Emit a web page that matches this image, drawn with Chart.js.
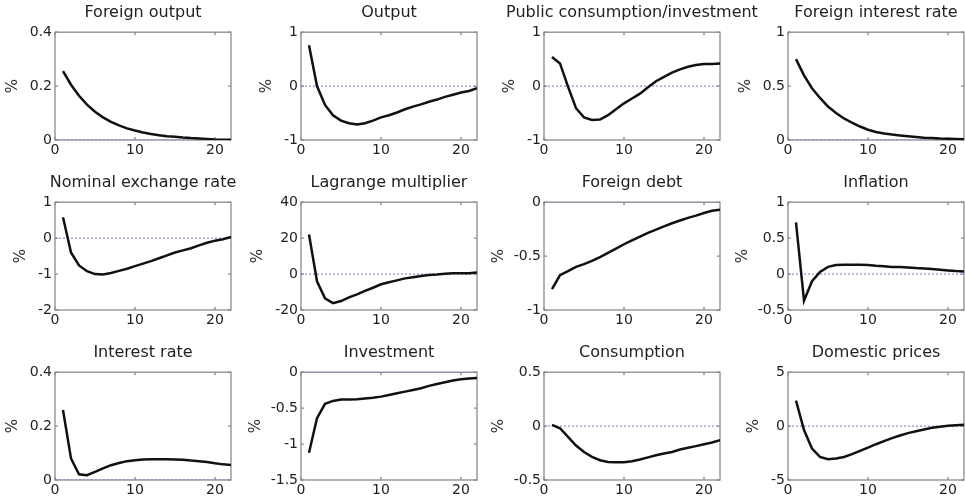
<!DOCTYPE html>
<html>
<head>
<meta charset="utf-8">
<script src="https://cdn.jsdelivr.net/npm/chart.js@4.4.1/dist/chart.umd.min.js"></script>
<style>
html, body { margin: 0; padding: 0; background: #fff; overflow: hidden; width: 965px; height: 502px; }
canvas.panel { position: absolute; }
</style>
</head>
<body>
<script>
// impulse responses, periods 1..22
const periods = [1, 2, 3, 4, 5, 6, 7, 8, 9, 10, 11, 12, 13, 14, 15, 16, 17, 18, 19, 20, 21, 22];

const foreignOutput = [0.256, 0.205, 0.164, 0.131, 0.105, 0.084, 0.067, 0.054, 0.043, 0.035, 0.028, 0.022, 0.018, 0.014, 0.012, 0.009, 0.007, 0.006, 0.004, 0.002, 0.001, 0.001];
const output = [0.76, 0.0, -0.35, -0.54, -0.64, -0.69, -0.71, -0.69, -0.64, -0.58, -0.54, -0.49, -0.43, -0.38, -0.34, -0.29, -0.25, -0.20, -0.16, -0.12, -0.09, -0.04];
const publicCons = [0.54, 0.42, -0.01, -0.41, -0.58, -0.63, -0.62, -0.54, -0.43, -0.32, -0.23, -0.14, -0.02, 0.09, 0.17, 0.25, 0.31, 0.36, 0.39, 0.41, 0.41, 0.42];
const foreignRate = [0.75, 0.60, 0.48, 0.39, 0.31, 0.25, 0.20, 0.16, 0.125, 0.095, 0.075, 0.06, 0.05, 0.042, 0.035, 0.028, 0.022, 0.018, 0.014, 0.012, 0.01, 0.008];
const exchangeRate = [0.58, -0.40, -0.76, -0.92, -1.00, -1.01, -0.97, -0.91, -0.85, -0.78, -0.71, -0.64, -0.56, -0.48, -0.40, -0.34, -0.28, -0.20, -0.13, -0.07, -0.03, 0.03];
const lagrange = [22, -4, -13.5, -16.2, -15, -13, -11.3, -9.4, -7.6, -5.7, -4.6, -3.5, -2.4, -1.8, -1.1, -0.5, -0.2, 0.2, 0.4, 0.4, 0.5, 0.9];
const foreignDebt = [-0.806, -0.677, -0.64, -0.60, -0.575, -0.545, -0.51, -0.47, -0.43, -0.39, -0.355, -0.32, -0.285, -0.255, -0.225, -0.195, -0.17, -0.145, -0.125, -0.10, -0.08, -0.07];
const inflation = [0.72, -0.37, -0.10, 0.03, 0.10, 0.125, 0.13, 0.13, 0.13, 0.125, 0.115, 0.11, 0.10, 0.097, 0.092, 0.083, 0.078, 0.07, 0.06, 0.05, 0.042, 0.037];
const interestRate = [0.26, 0.08, 0.021, 0.018, 0.03, 0.043, 0.055, 0.063, 0.07, 0.073, 0.076, 0.077, 0.077, 0.077, 0.076, 0.075, 0.072, 0.07, 0.067, 0.062, 0.058, 0.056];
const investment = [-1.12, -0.64, -0.44, -0.40, -0.38, -0.38, -0.375, -0.365, -0.355, -0.34, -0.317, -0.293, -0.27, -0.247, -0.224, -0.19, -0.163, -0.14, -0.116, -0.098, -0.088, -0.08];
const consumption = [0.012, -0.02, -0.10, -0.18, -0.24, -0.285, -0.317, -0.332, -0.335, -0.335, -0.326, -0.31, -0.29, -0.27, -0.255, -0.24, -0.217, -0.20, -0.186, -0.168, -0.152, -0.13];
const domesticPrices = [2.36, -0.37, -2.08, -2.86, -3.07, -3.0, -2.86, -2.6, -2.3, -2.0, -1.68, -1.4, -1.12, -0.87, -0.65, -0.47, -0.31, -0.16, -0.06, 0.03, 0.09, 0.12];

const titles = ['Foreign output', 'Output', 'Public consumption/investment', 'Foreign interest rate',
    'Nominal exchange rate', 'Lagrange multiplier', 'Foreign debt', 'Inflation',
    'Interest rate', 'Investment', 'Consumption', 'Domestic prices'];
const series = [foreignOutput, output, publicCons, foreignRate,
    exchangeRate, lagrange, foreignDebt, inflation,
    interestRate, investment, consumption, domesticPrices];
const yMin = [0, -1, -1, 0, -2, -20, -1, -0.5, 0, -1.5, -0.5, -5];
const yMax = [0.4, 1, 1, 1, 1, 40, 0, 1, 0.4, 0, 0.5, 5];
const yStep = [0.2, 1, 1, 0.5, 1, 20, 0.5, 0.5, 0.2, 0.5, 0.5, 5];
const xTicks = [0, 10, 20];
const xMin = 0, xMax = 22;
const zeroLine = [0, 0];

// layout of the 4x3 grid (plot-box corners)
const colLeft = [55, 301, 544, 788];
const rowTop = [32, 202, 372];
const plotW = 176;
const canvasW = 340, canvasH = 164;

const boxPlugin = {
    id: 'box',
    beforeDatasetsDraw(chart) {
        const {ctx, chartArea: a, scales} = chart;
        ctx.save();
        ctx.strokeStyle = '#8c8c8c';
        ctx.lineWidth = 1.3;
        ctx.strokeRect(a.left, a.top, a.width, a.height);
        ctx.beginPath();
        scales.x.ticks.forEach((t) => {
            const px = scales.x.getPixelForValue(t.value);
            ctx.moveTo(px, a.bottom); ctx.lineTo(px, a.bottom - 3);
            ctx.moveTo(px, a.top); ctx.lineTo(px, a.top + 3);
        });
        scales.y.ticks.forEach((t) => {
            const py = scales.y.getPixelForValue(t.value);
            ctx.moveTo(a.left, py); ctx.lineTo(a.left + 3, py);
            ctx.moveTo(a.right, py); ctx.lineTo(a.right - 3, py);
        });
        ctx.stroke();
        ctx.restore();
    }
};

const tickFont = {family: 'DejaVu Sans', size: 14};

// empty side axes, only used to centre the plot box in its canvas
function spacer(position, pads) {
    return {
        type: 'linear',
        position: position,
        weight: 10,
        grid: {display: false, drawTicks: false},
        border: {display: false},
        ticks: {display: false},
        afterFit: (scale) => { scale.width = pads[position]; }
    };
}

titles.forEach((title, i) => {
    const col = i % 4, row = Math.floor(i / 4);
    const canvas = document.createElement('canvas');
    canvas.className = 'panel';
    canvas.width = canvasW;
    canvas.height = canvasH;
    canvas.style.width = canvasW + 'px';
    canvas.style.height = canvasH + 'px';
    document.body.appendChild(canvas);

    const pads = {left: 0, right: 0};

    const chart = new Chart(canvas, {
        type: 'line',
        data: {
            datasets: [
                {
                    data: periods.map((p, k) => ({x: p, y: series[i][k]})),
                    borderColor: '#111',
                    borderWidth: 2.5,
                    pointRadius: 0,
                    tension: 0,
                    order: 0
                },
                {
                    data: [{x: xMin, y: zeroLine[0]}, {x: xMax, y: zeroLine[1]}],
                    borderColor: '#7474cc',
                    borderWidth: 1,
                    borderDash: [2, 2],
                    pointRadius: 0,
                    order: 1
                }
            ]
        },
        options: {
            responsive: false,
            maintainAspectRatio: false,
            animation: false,
            plugins: {
                legend: {display: false},
                tooltip: {enabled: false},
                title: {
                    display: true,
                    text: title,
                    color: '#222',
                    font: {family: 'DejaVu Sans', size: 16, weight: 'normal'},
                    padding: {top: 3, bottom: 10}
                }
            },
            scales: {
                x: {
                    type: 'linear',
                    min: xMin,
                    max: xMax,
                    grid: {display: false, drawTicks: false},
                    border: {display: false},
                    ticks: {color: '#222', font: tickFont, padding: 2, maxRotation: 0},
                    afterBuildTicks: (scale) => {
                        scale.ticks = xTicks.map((v) => ({value: v}));
                    },
                    afterFit: (scale) => { scale.height = 24; }
                },
                y: {
                    min: yMin[i],
                    max: yMax[i],
                    grid: {display: false, drawTicks: false},
                    border: {display: false},
                    ticks: {
                        stepSize: yStep[i],
                        color: '#222',
                        font: tickFont,
                        padding: 3,
                        callback: (v) => String(+v.toFixed(2))
                    },
                    title: {
                        display: true,
                        text: '%',
                        color: '#333',
                        font: {family: 'DejaVu Sans', size: 15},
                        padding: {top: 3, bottom: 5}
                    }
                },
                left: spacer('left', pads),
                right: spacer('right', pads)
            }
        },
        plugins: [boxPlugin]
    });

    // centre the plot box so the full-width title sits over it, then place the canvas
    const side = (canvasW - plotW) / 2;
    pads.left = side - chart.chartArea.left;
    pads.right = side;
    chart.update('none');
    canvas.style.left = (colLeft[col] - chart.chartArea.left) + 'px';
    canvas.style.top = (rowTop[row] - chart.chartArea.top) + 'px';
});
</script>
</body>
</html>
